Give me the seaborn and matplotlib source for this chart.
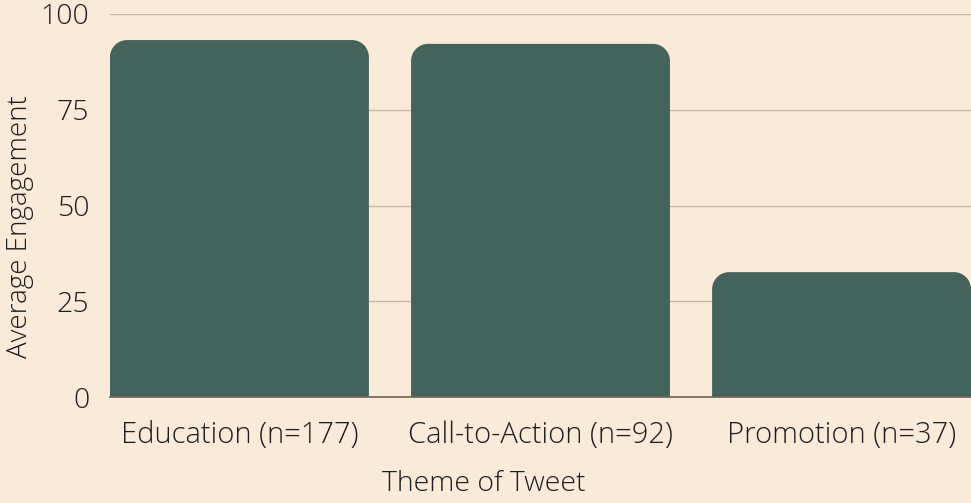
import matplotlib
matplotlib.use("Agg")
import matplotlib.pyplot as plt
import seaborn as sns
import pandas as pd
import numpy as np
from matplotlib.path import Path
from matplotlib.patches import PathPatch

categories = ["Education (n=177)", "Call-to-Action (n=92)", "Promotion (n=37)"]
values = [93.2, 92.2, 32.6]
yticks = [0, 25, 50, 75, 100]

BG = "#FAEBD9"
BAR = "#44635A"
GRID = "#C9B7A5"
TXT = "#1E1E1E"

sns.set_theme(style="white")
plt.rcParams["font.family"] = ["Open Sans", "DejaVu Sans"]

df = pd.DataFrame({"theme": categories, "eng": values})

fig = plt.figure(figsize=(9.71, 5.03), dpi=100, facecolor=BG)
ax = fig.add_axes([110/971, 1 - 397/503, 1 - 110/971, (397 - 14)/503])
ax.set_facecolor(BG)

sns.barplot(data=df, x="theme", y="eng", color=BAR, width=0.86, saturation=1, ax=ax, zorder=3)

ax.set_xlim(-0.43, 2.43)
ax.set_ylim(0, 100)
ax.set_yticks(yticks)
ax.yaxis.grid(True, color=GRID, linewidth=1, zorder=0)
ax.set_axisbelow(True)
for s in ["top", "right", "left"]:
    ax.spines[s].set_visible(False)
ax.spines["bottom"].set_color("#6E6253")
ax.spines["bottom"].set_linewidth(1.2)
ax.spines["bottom"].set_zorder(4)

ax.tick_params(axis="y", length=0, pad=15, labelsize=20.5, labelcolor=TXT)
ax.tick_params(axis="x", length=0, pad=17, labelsize=21, labelcolor=TXT)
for lab in ax.get_xticklabels() + ax.get_yticklabels():
    lab.set_fontweight("light")

ax.set_xlabel("Theme of Tweet", fontsize=20.5, fontweight="light", color=TXT)
ax.set_ylabel("Average Engagement", fontsize=20, fontweight="light", color=TXT)
ax.xaxis.set_label_coords((484 - 110) / 861, -(470 - 397) / 383)
ax.yaxis.set_label_coords(-(110 - 34) / 861, 0.446)

# rounded top corners
fig.canvas.draw()
bbox = ax.get_window_extent()
xl = ax.get_xlim(); yl = ax.get_ylim()
pxx = bbox.width / (xl[1] - xl[0])
pxy = bbox.height / (yl[1] - yl[0])
r_px = 17
for p in list(ax.patches):
    x0 = p.get_x(); w = p.get_width(); h = p.get_height(); y0 = p.get_y()
    x1 = x0 + w; y1 = y0 + h
    rx = r_px / pxx; ry = r_px / pxy
    k = 0.5523
    verts = [(x0, y0), (x0, y1 - ry),
             (x0, y1 - ry + k * ry), (x0 + rx - k * rx, y1), (x0 + rx, y1),
             (x1 - rx, y1),
             (x1 - rx + k * rx, y1), (x1, y1 - ry + k * ry), (x1, y1 - ry),
             (x1, y0), (x0, y0)]
    codes = [Path.MOVETO, Path.LINETO,
             Path.CURVE4, Path.CURVE4, Path.CURVE4,
             Path.LINETO,
             Path.CURVE4, Path.CURVE4, Path.CURVE4,
             Path.LINETO, Path.CLOSEPOLY]
    ax.add_patch(PathPatch(Path(verts, codes), facecolor=BAR, edgecolor="none", zorder=3))
    p.set_visible(False)

fig.savefig("out.png", dpi=100, facecolor=BG)
